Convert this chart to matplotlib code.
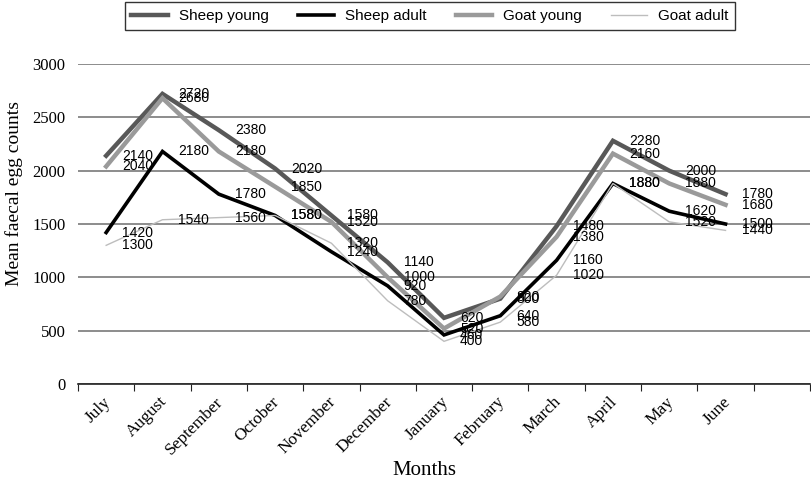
import numpy as np
import matplotlib
matplotlib.use("Agg")
import matplotlib.pyplot as plt
from matplotlib.transforms import ScaledTranslation

months = ["July", "August", "September", "October", "November", "December",
          "January", "February", "March", "April", "May", "June"]
sheep_young = [2140, 2720, 2380, 2020, 1580, 1140, 620, 800, 1480, 2280, 2000, 1780]
sheep_adult = [1420, 2180, 1780, 1580, 1240, 920, 460, 640, 1160, 1880, 1620, 1500]
goat_young = [2040, 2680, 2180, 1850, 1520, 1000, 520, 820, 1380, 2160, 1880, 1680]
goat_adult = [1300, 1540, 1560, 1580, 1320, 780, 400, 580, 1020, 1880, 1520, 1440]

series = [
    ("Sheep young", sheep_young, "#585858", 3.2),
    ("Sheep adult", sheep_adult, "#000000", 2.6),
    ("Goat young", goat_young, "#9a9a9a", 3.2),
    ("Goat adult", goat_adult, "#bdbdbd", 1.0),
]

serif = "Liberation Serif"
sans = "Liberation Sans"

fig = plt.figure(figsize=(8.12, 4.86), dpi=100)
ax = fig.add_axes([78 / 812, 1 - 384 / 486, 732 / 812, 320 / 486])

x = np.arange(len(months))
for name, vals, color, lw in series:
    ax.plot(x, vals, color=color, lw=lw, label=name, solid_joinstyle="miter")

# value labels, right of each point
for name, vals, color, lw in series:
    for xi, v in zip(x, vals):
        ax.annotate(str(v), (xi, v), xytext=(16, 0), textcoords="offset pixels",
                    ha="left", va="center", fontsize=10, family=sans, color="black")

ax.set_xlim(-0.5, len(months) + 0.5)
ax.set_ylim(0, 3000)
ax.set_yticks(np.arange(0, 3001, 500))
ax.yaxis.grid(True, color="#8c8c8c", lw=1.4)
ax.set_axisbelow(True)

for s in ["top", "right", "left"]:
    ax.spines[s].set_visible(False)
ax.spines["bottom"].set_color("#222222")
ax.spines["bottom"].set_linewidth(1.2)

# ticks sit between categories, labels at the centres
ax.set_xticks(np.arange(-0.5, len(months) + 1, 1))
ax.set_xticklabels([])
ax.tick_params(axis="x", which="major", length=5, direction="out", color="#222222")
ax.set_xticks(x, minor=True)
ax.set_xticklabels(months, minor=True, rotation=45, ha="right", va="top",
                   fontsize=12.5, family=serif)
ax.tick_params(axis="x", which="minor", length=0, pad=7)
shift = ScaledTranslation(8 / 100, 0, fig.dpi_scale_trans)
for lab in ax.get_xticklabels(minor=True):
    lab.set_transform(lab.get_transform() + shift)
ax.tick_params(axis="y", length=0, pad=9)
for lab in ax.get_yticklabels():
    lab.set_family(serif)
    lab.set_fontsize(12)

fig.text(14 / 812, 0.5 * (1 - 100 / 486) + 0.5 * (1 - 287 / 486), "Mean faecal egg counts",
         family=serif, fontsize=14, rotation=90, ha="center", va="center")
fig.text(424 / 812, 1 - 470 / 486, "Months", family=serif, fontsize=15,
         ha="center", va="center")

leg = fig.legend(loc="upper center", bbox_to_anchor=(430 / 812, 1 - 2 / 486),
                 ncol=4, prop={"family": sans, "size": 11}, frameon=True,
                 fancybox=False, handlelength=2.4, handletextpad=0.7,
                 columnspacing=1.9, borderpad=0.45, borderaxespad=0)
leg.get_frame().set_edgecolor("black")
leg.get_frame().set_linewidth(1.0)

fig.savefig("out.png", dpi=100)
